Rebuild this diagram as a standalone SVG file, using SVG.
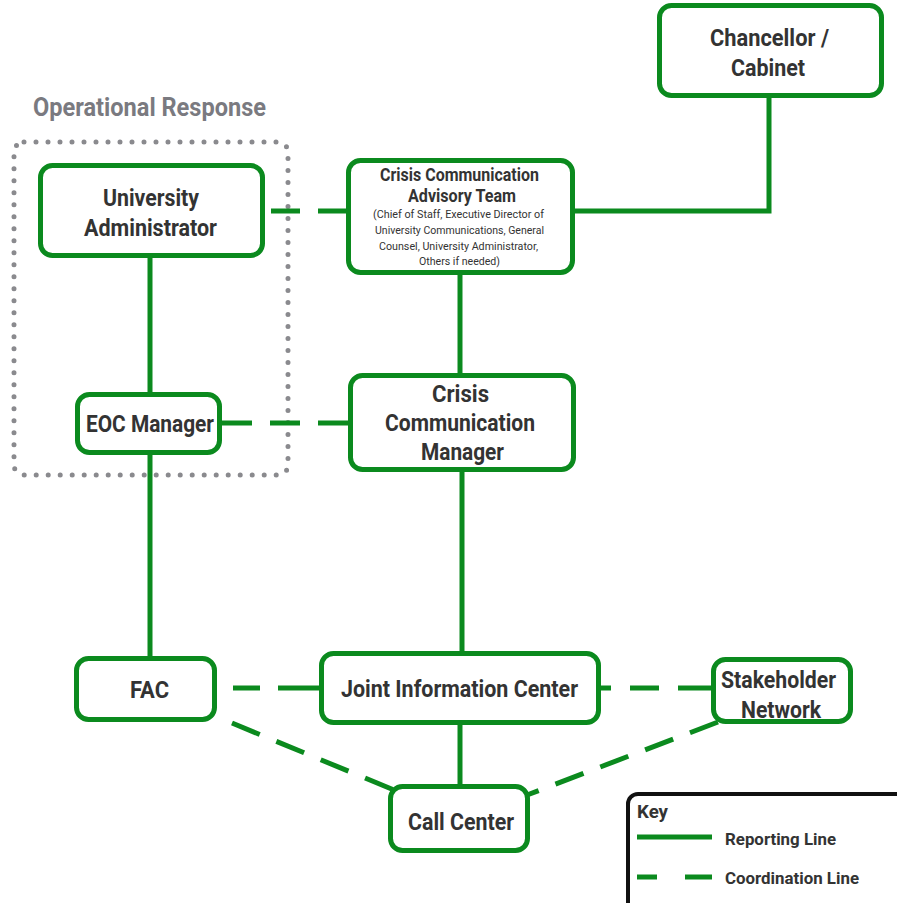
<svg xmlns="http://www.w3.org/2000/svg" width="897" height="903" viewBox="0 0 897 903">
<style>
.node{fill:#fff;stroke:#0b8a1e;stroke-width:5}
.t{font-family:Roboto,"Liberation Sans",sans-serif;font-weight:700;fill:#333;text-anchor:middle}
.b{font-size:24px}
.s{font-size:11.5px;font-weight:400}
.m{font-size:18px}
.solid{stroke:#0b8a1e;stroke-width:5;fill:none}
.dash{stroke:#0b8a1e;stroke-width:5;fill:none;stroke-dasharray:30 18}
.k{font-family:Roboto,"Liberation Sans",sans-serif;font-weight:700;fill:#333}
</style>
<rect width="897" height="903" fill="#fff"/>
<g id="operational-response">
<text x="33" y="116" font-family="Roboto,'Liberation Sans',sans-serif" font-weight="700" font-size="25" fill="#7a7a80" textLength="233" lengthAdjust="spacingAndGlyphs">Operational Response</text>
<rect x="14" y="142" width="274" height="333" rx="10" fill="none" stroke="#8a8a8e" stroke-width="5" stroke-linecap="round" stroke-dasharray="0 12"/>
</g>
<g id="connectors">
<line class="solid" x1="150" y1="258" x2="150" y2="392"/>
<line class="solid" x1="150" y1="455" x2="150" y2="656"/>
<polyline class="solid" points="769,98 769,211 575,211"/>
<line class="solid" x1="460" y1="275" x2="460" y2="373"/>
<line class="solid" x1="462" y1="472" x2="462" y2="651"/>
<line class="solid" x1="460" y1="725" x2="460" y2="784"/>
<line class="dash" x1="271" y1="211" x2="346" y2="211" style="stroke-dasharray:29 18"/>
<line class="dash" x1="222" y1="423" x2="348" y2="423"/>
<line class="dash" x1="217" y1="688" x2="319" y2="688" style="stroke-dasharray:0 16 27 18 60"/>
<line class="dash" x1="601" y1="688" x2="711" y2="688" style="stroke-dasharray:10 19 29 19 40"/>
<line class="dash" x1="232" y1="723" x2="394" y2="790"/>
<line class="dash" x1="718" y1="722" x2="527" y2="795"/>
</g>
<g id="chancellor">
<rect class="node" x="659.5" y="5.5" width="222" height="90" rx="12"/>
<text class="t b" x="769.5" y="46" textLength="119" lengthAdjust="spacingAndGlyphs">Chancellor /</text>
<text class="t b" x="768" y="76" textLength="74" lengthAdjust="spacingAndGlyphs">Cabinet</text>
</g>
<g id="university-administrator">
<rect class="node" x="40.5" y="165.5" width="222" height="90" rx="12"/>
<text class="t b" x="151" y="206" textLength="96" lengthAdjust="spacingAndGlyphs">University</text>
<text class="t b" x="150.5" y="236" textLength="133" lengthAdjust="spacingAndGlyphs">Administrator</text>
</g>
<g id="advisory-team">
<rect class="node" x="348.5" y="160.5" width="224" height="112" rx="12"/>
<text class="t m" x="459.5" y="181" textLength="159" lengthAdjust="spacingAndGlyphs">Crisis Communication</text>
<text class="t m" x="462" y="202" textLength="108" lengthAdjust="spacingAndGlyphs">Advisory Team</text>
<text class="t s" x="458.5" y="218" textLength="171" lengthAdjust="spacingAndGlyphs">(Chief of Staff, Executive Director of</text>
<text class="t s" x="459.5" y="234" textLength="169" lengthAdjust="spacingAndGlyphs">University Communications, General</text>
<text class="t s" x="458.5" y="250" textLength="159" lengthAdjust="spacingAndGlyphs">Counsel, University Administrator,</text>
<text class="t s" x="459.5" y="265" textLength="81" lengthAdjust="spacingAndGlyphs">Others if needed)</text>
</g>
<g id="eoc-manager">
<rect class="node" x="77.5" y="394.5" width="142" height="58" rx="12"/>
<text class="t b" x="150" y="432" textLength="128" lengthAdjust="spacingAndGlyphs">EOC Manager</text>
</g>
<g id="crisis-communication-manager">
<rect class="node" x="350.5" y="375.5" width="223" height="94" rx="12"/>
<text class="t b" x="460.5" y="402" textLength="57" lengthAdjust="spacingAndGlyphs">Crisis</text>
<text class="t b" x="460" y="431" textLength="150" lengthAdjust="spacingAndGlyphs">Communication</text>
<text class="t b" x="462.5" y="460" textLength="83" lengthAdjust="spacingAndGlyphs">Manager</text>
</g>
<g id="fac">
<rect class="node" x="76.5" y="658.5" width="138" height="61" rx="12"/>
<text class="t b" x="149.5" y="698" textLength="39" lengthAdjust="spacingAndGlyphs">FAC</text>
</g>
<g id="joint-information-center">
<rect class="node" x="321.5" y="653.5" width="277" height="69" rx="12"/>
<text class="t b" x="459.5" y="697" textLength="237" lengthAdjust="spacingAndGlyphs">Joint Information Center</text>
</g>
<g id="stakeholder-network">
<rect class="node" x="713.5" y="659.5" width="137" height="62" rx="12"/>
<text class="t b" x="778.5" y="688" textLength="115" lengthAdjust="spacingAndGlyphs">Stakeholder</text>
<text class="t b" x="781" y="718" textLength="80" lengthAdjust="spacingAndGlyphs">Network</text>
</g>
<g id="call-center">
<rect class="node" x="390.5" y="786.5" width="137" height="64" rx="12"/>
<text class="t b" x="461" y="830" textLength="106" lengthAdjust="spacingAndGlyphs">Call Center</text>
</g>
<g id="key">
<rect x="628" y="794" width="280" height="120" rx="10" fill="#fff" stroke="#111" stroke-width="4"/>
<text class="k" x="637" y="818" font-size="18" textLength="31" lengthAdjust="spacingAndGlyphs">Key</text>
<line class="solid" x1="637" y1="837" x2="712" y2="837"/>
<line class="solid" x1="637" y1="877" x2="657" y2="877"/>
<line class="solid" x1="685" y1="877" x2="712" y2="877"/>
<text class="k" x="725" y="845" font-size="17" textLength="111" lengthAdjust="spacingAndGlyphs">Reporting Line</text>
<text class="k" x="725" y="884" font-size="17" textLength="134" lengthAdjust="spacingAndGlyphs">Coordination Line</text>
</g>
</svg>
